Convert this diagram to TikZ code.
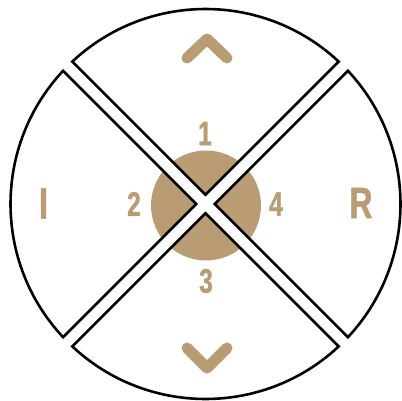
\documentclass[tikz,border=0pt]{standalone}
\usepackage{fontspec}
\newfontfamily\labelfont{Liberation Sans}[FakeStretch=0.72,FakeBold=1.2]
\usetikzlibrary{calc}
\definecolor{padtan}{RGB}{186,156,116}
\begin{document}
\begin{tikzpicture}[x=1pt,y=1pt,
  outline/.style={draw=black, line width=2.6pt, line join=miter},
  lbl/.style={text=padtan, font=\labelfont\bfseries\fontsize{34}{34}\selectfont, inner sep=0pt},
  big/.style={text=padtan, font=\labelfont\bfseries\fontsize{44}{44}\selectfont, inner sep=0pt},
  chev/.style={draw=padtan, line width=11pt, line cap=round, line join=round}]
\useasboundingbox (0,0) rectangle (402,400);
\coordinate (C) at (205.5,196);
\def\R{195}
\def\hw{6.5}
\pgfmathsetmacro\dd{asin(\hw/\R)}
\pgfmathsetmacro\dc{\hw*sqrt(2)}
% tan central disc
\fill[padtan] ($(C)+(0.5,-1.5)$) circle (55);
% white cross strips
\draw[white, line width=13pt] ($(C)+(45:70)$) -- ($(C)+(225:70)$);
\draw[white, line width=13pt] ($(C)+(135:70)$) -- ($(C)+(315:70)$);
% four sectors
\foreach \t in {0,90,180,270} {
  \pgfmathsetmacro\aS{\t-45+\dd}
  \pgfmathsetmacro\aE{\t+45-\dd}
  \draw[outline] ($(C)+(\t:\dc)$) -- ($(C)+(\aS:\R)$)
     arc[start angle=\aS, end angle=\aE, radius=\R] -- cycle;
}
% labels
\node[lbl] (n1) at (205,266.5) {1};
\node[lbl] (n2) at (134,196) {2};
\node[lbl] (n4) at (276,196) {4};
\node[lbl] (n3) at (206,119) {3};
\node[big] (nI) at (43.5,196.5) {I};
\node[big] (nR) at (361,197) {R};
% chevrons
\draw[chev] (187,342) -- (207,361) -- (227,342);
\draw[chev] (187,52) -- (207,32) -- (227,52);
\end{tikzpicture}
\end{document}
